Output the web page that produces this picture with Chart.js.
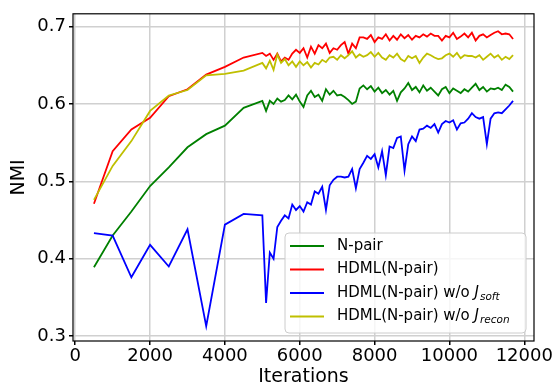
<!DOCTYPE html>
<html>
<head>
<meta charset="utf-8">
<script src="https://cdn.jsdelivr.net/npm/chart.js@4"></script>
<style>
html,body{margin:0;padding:0;background:#fff;}
canvas{display:block;}
</style>
</head>
<body>
<canvas id="c" width="559" height="389"></canvas>
<script>
const iterations = [500,1000,1500,2000,2500,3000,3500,4000,4500,5000,
5100,5200,5300,5400,5500,5600,5700,5800,5900,6000,
6100,6200,6300,6400,6500,6600,6700,6800,6900,7000,
7100,7200,7300,7400,7500,7600,7700,7800,7900,8000,
8100,8200,8300,8400,8500,8600,8700,8800,8900,9000,
9100,9200,9300,9400,9500,9600,9700,9800,9900,10000,
10100,10200,10300,10400,10500,10600,10700,10800,10900,11000,
11100,11200,11300,11400,11500,11600,11700];

const nPair = [0.389,0.430,0.461,0.494,0.518,0.544,0.561,0.572,0.595,0.604,
0.591,0.604,0.600,0.607,0.603,0.605,0.611,0.606,0.612,0.603,
0.596,0.611,0.617,0.609,0.612,0.604,0.619,0.612,0.617,0.611,
0.612,0.609,0.605,0.600,0.603,0.620,0.624,0.619,0.623,0.616,
0.621,0.614,0.618,0.612,0.617,0.604,0.615,0.620,0.627,0.618,
0.622,0.615,0.624,0.617,0.621,0.616,0.611,0.619,0.622,0.614,
0.620,0.617,0.614,0.619,0.616,0.621,0.626,0.618,0.622,0.616,
0.620,0.619,0.621,0.618,0.625,0.622,0.616];

const hdml = [0.471,0.539,0.567,0.582,0.610,0.619,0.638,0.648,0.660,0.666,
0.662,0.665,0.657,0.665,0.655,0.660,0.657,0.665,0.670,0.666,
0.672,0.660,0.674,0.665,0.676,0.672,0.678,0.666,0.672,0.670,
0.676,0.680,0.665,0.678,0.672,0.686,0.686,0.684,0.689,0.680,
0.686,0.684,0.690,0.682,0.688,0.683,0.690,0.685,0.689,0.683,
0.688,0.686,0.690,0.687,0.691,0.688,0.688,0.682,0.688,0.686,
0.692,0.684,0.687,0.691,0.686,0.692,0.682,0.688,0.690,0.686,
0.689,0.692,0.694,0.690,0.691,0.690,0.684];

const hdmlNoSoft = [0.433,0.430,0.376,0.418,0.390,0.438,0.313,0.444,0.458,0.456,
0.343,0.408,0.400,0.441,0.449,0.456,0.452,0.470,0.463,0.468,
0.461,0.473,0.470,0.487,0.484,0.493,0.463,0.495,0.502,0.506,
0.506,0.505,0.506,0.516,0.491,0.516,0.524,0.533,0.529,0.535,
0.518,0.539,0.508,0.545,0.543,0.556,0.558,0.514,0.548,0.558,
0.552,0.567,0.568,0.572,0.569,0.574,0.563,0.574,0.578,0.576,
0.579,0.567,0.575,0.576,0.581,0.588,0.583,0.581,0.583,0.548,
0.581,0.588,0.589,0.588,0.593,0.598,0.604];

const hdmlNoRecon = [0.476,0.520,0.552,0.591,0.611,0.618,0.637,0.639,0.643,0.653,
0.646,0.656,0.644,0.664,0.653,0.658,0.650,0.655,0.648,0.655,
0.650,0.654,0.647,0.653,0.651,0.657,0.654,0.660,0.661,0.657,
0.663,0.659,0.663,0.668,0.660,0.664,0.661,0.663,0.667,0.661,
0.666,0.660,0.657,0.663,0.660,0.665,0.658,0.655,0.662,0.659,
0.662,0.653,0.660,0.665,0.663,0.660,0.658,0.659,0.663,0.665,
0.661,0.666,0.659,0.663,0.662,0.662,0.660,0.663,0.657,0.661,
0.665,0.660,0.663,0.657,0.661,0.658,0.663];

const seriesLabels = ["N-pair", "HDML(N-pair)", "HDML(N-pair) w/o J_soft", "HDML(N-pair) w/o J_recon"];
const seriesColors = ["#008000", "#ff0000", "#0000ff", "#bfbf00"];
const xTicks = [0, 2000, 4000, 6000, 8000, 10000, 12000];
const yTicks = [0.3, 0.4, 0.5, 0.6, 0.7];
const xTitle = "Iterations";
const yTitle = "NMI";

const FONT = '"DejaVu Sans", "Liberation Sans", sans-serif';
const series = [nPair, hdml, hdmlNoSoft, hdmlNoRecon];

const datasets = series.map((vals, i) => ({
  label: seriesLabels[i],
  data: iterations.map((x, k) => ({x: x, y: vals[k]})),
  borderColor: seriesColors[i],
  backgroundColor: seriesColors[i],
  borderWidth: 1.8,
  pointRadius: 0,
  tension: 0,
  fill: false,
  order: series.length - i
}));

const framePlugin = {
  id: 'frame',
  afterDatasetsDraw(chart) {
    const a = chart.chartArea, ctx = chart.ctx;
    ctx.save();
    ctx.strokeStyle = '#000';
    ctx.lineWidth = 1.2;
    ctx.strokeRect(a.left, a.top, a.right - a.left, a.bottom - a.top);
    ctx.restore();
  }
};

const legendPlugin = {
  id: 'customLegend',
  afterDraw(chart) {
    const ctx = chart.ctx, a = chart.chartArea;
    const w = 241, h = 100;
    const x0 = a.right - 8 - w, y0 = a.bottom - 8 - h;
    ctx.save();
    ctx.beginPath();
    ctx.roundRect(x0, y0, w, h, 4);
    ctx.fillStyle = 'rgba(255,255,255,0.8)';
    ctx.fill();
    ctx.strokeStyle = '#cccccc';
    ctx.lineWidth = 1;
    ctx.stroke();
    const rowH = 23.5;
    seriesLabels.forEach((lab, i) => {
      const y = y0 + 13 + i * rowH;
      ctx.strokeStyle = seriesColors[i];
      ctx.lineWidth = 1.8;
      ctx.beginPath();
      ctx.moveTo(x0 + 5, y);
      ctx.lineTo(x0 + 39, y);
      ctx.stroke();
      ctx.fillStyle = '#000';
      ctx.textBaseline = 'middle';
      ctx.textAlign = 'left';
      let tx = x0 + 52;
      const parts = lab.split(' J_');
      ctx.font = '15px ' + FONT;
      ctx.fillText(parts[0] + (parts.length > 1 ? ' ' : ''), tx, y);
      if (parts.length > 1) {
        tx += ctx.measureText(parts[0] + ' ').width;
        ctx.font = 'italic 15px ' + FONT;
        ctx.fillText('J', tx, y);
        tx += ctx.measureText('J').width + 1;
        ctx.font = 'italic 10.5px ' + FONT;
        ctx.fillText(parts[1], tx, y + 4);
      }
    });
    ctx.restore();
  }
};

new Chart(document.getElementById('c'), {
  type: 'line',
  data: {datasets: datasets},
  plugins: [framePlugin, legendPlugin],
  options: {
    responsive: false,
    animation: false,
    devicePixelRatio: 1,
    layout: {padding: {top: 7, right: 25, left: 0, bottom: 0}},
    plugins: {legend: {display: false}, tooltip: {enabled: false}},
    scales: {
      x: {
        type: 'linear',
        min: -60,
        max: 12260,
        afterBuildTicks: s => { s.ticks = xTicks.map(v => ({value: v})); },
        afterFit: s => { s.height = 48; },
        ticks: {
          font: {family: FONT, size: 18},
          color: '#000',
          padding: 1,
          maxRotation: 0,
          autoSkip: false,
          callback: v => String(v)
        },
        grid: {color: '#d0d0d0', lineWidth: 1.5, tickColor: '#000', tickLength: 4, drawTicks: true},
        border: {display: false},
        title: {display: true, text: xTitle, color: '#000', font: {family: FONT, size: 19, lineHeight: 1}, padding: {top: 0, bottom: 2}}
      },
      y: {
        type: 'linear',
        min: 0.2937,
        max: 0.7165,
        afterBuildTicks: s => { s.ticks = yTicks.map(v => ({value: v})); },
        afterFit: s => { s.width = 73; },
        ticks: {
          font: {family: FONT, size: 18},
          color: '#000',
          padding: 3,
          callback: v => v.toFixed(1)
        },
        grid: {color: '#d0d0d0', lineWidth: 1.5, tickColor: '#000', tickLength: 4, drawTicks: true},
        border: {display: false},
        title: {display: true, text: yTitle, color: '#000', font: {family: FONT, size: 19, lineHeight: 1}, padding: {top: 10, bottom: 0}}
      }
    }
  }
});
</script>
</body>
</html>
